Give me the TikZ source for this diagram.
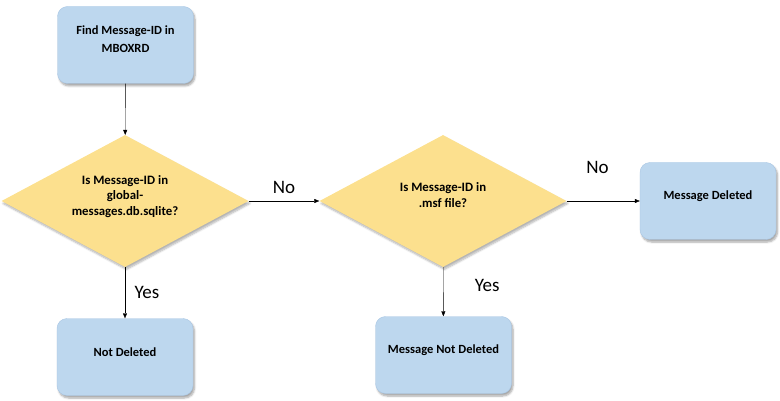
\documentclass[tikz,border=0pt]{standalone}
\usepackage{fontspec}
\setmainfont{Carlito}
\usetikzlibrary{shapes.geometric,arrows.meta,shadows.blur}

\definecolor{boxblue}{HTML}{BDD7EE}
\definecolor{boxline}{HTML}{A9C6E4}
\definecolor{decgold}{HTML}{FCE08E}

\tikzset{
  stepbox/.style={rectangle, rounded corners=10pt, fill=boxblue, draw=boxline,
    minimum width=136pt, minimum height=77pt, align=center,
    font=\fontsize{12.5}{18}\selectfont\bfseries,
    blur shadow={shadow xshift=1.5pt, shadow yshift=-2.5pt, shadow blur steps=6, shadow opacity=35}},
  decision/.style={diamond, aspect=1.87, fill=decgold, minimum width=247pt, minimum height=132pt,
    inner sep=0pt, align=center, font=\fontsize{12.8}{15.5}\selectfont\bfseries,
    blur shadow={shadow xshift=1.5pt, shadow yshift=-2.5pt, shadow blur steps=6, shadow opacity=30}},
  flow/.style={-{Triangle[length=5pt,width=4pt]}, thin, black},
  answer/.style={font=\fontsize{19}{19}\selectfont}
}

\begin{document}
\begin{tikzpicture}[x=1pt,y=-1pt]

      \useasboundingbox (0,0) rectangle (780,401);

      \begin{scope}[every node/.style={stepbox}]
        \node (find)     at (125.5,45)  {Find Message-ID in\\MBOXRD\\[-7pt]};
        \node (notdel)   at (125,357)   {Not Deleted\\[-8pt]};
        \node (deleted)  at (708,201)   {Message Deleted\\[-6pt]};
        \node (msgnot)   at (443.5,355) {Message Not Deleted\\[-7pt]};
      \end{scope}

      \begin{scope}[every node/.style={decision}]
        \node (inglobal) at (125,201) {Is Message-ID in\\global-\\messages.db.sqlite?\\[-4pt]};
        \node (inmsf)    at (443,201) {Is Message-ID in\\.msf file?\\[-4pt]};
      \end{scope}

      \begin{scope}[every node/.style={answer}]
        \draw[flow] (find) -- (inglobal);
        \draw[flow] (inglobal) -- node[above=4pt] {No} (inmsf);
        \draw[flow] (inglobal) -- node[right=6pt, pos=0.5] {Yes} (notdel);
        \draw[flow] (inmsf) -- node[above=24pt, pos=0.42] {No} (deleted);
        \draw[flow] (inmsf) -- node[right=28pt, pos=0.38] {Yes} (msgnot);
      \end{scope}

    \end{tikzpicture}
\end{document}
